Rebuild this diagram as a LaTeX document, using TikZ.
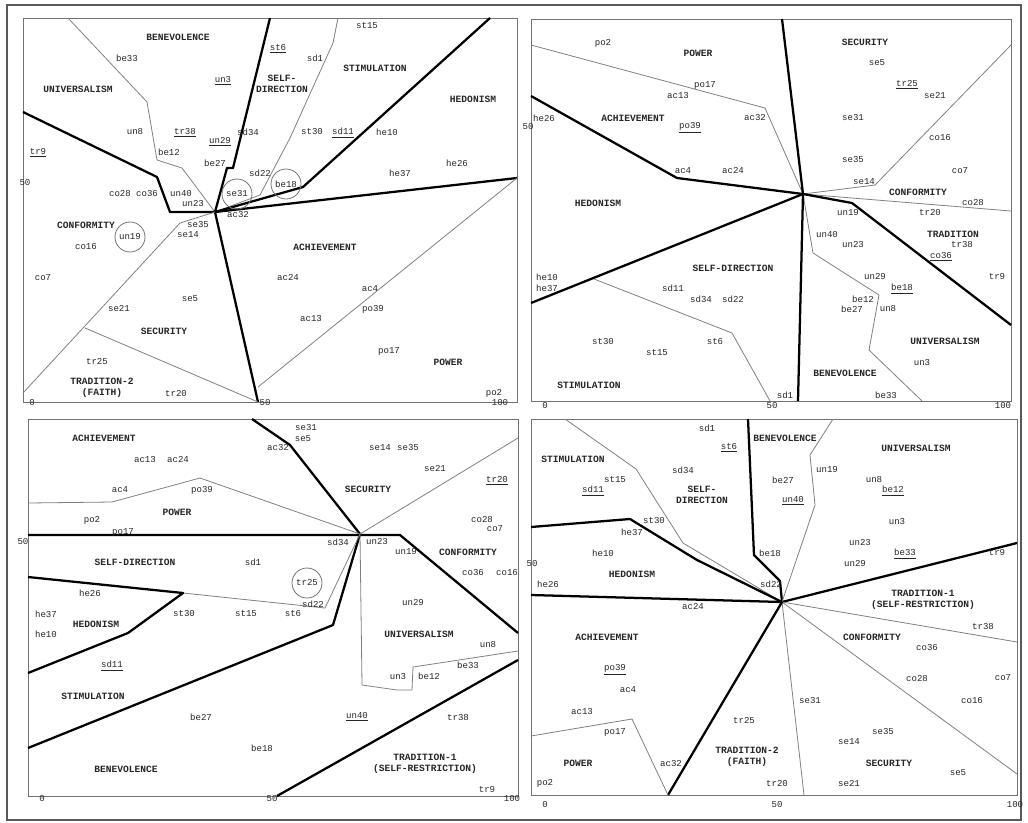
\documentclass[tikz,border=0pt]{standalone}
\usepackage{fontspec}
\setmainfont{Liberation Mono}
\newcounter{lbc}
\newcommand\Lb[2]{\stepcounter{lbc}\node[lbl] (l\arabic{lbc}) at (#1) {#2};}
\newcommand\Rg[2]{\stepcounter{lbc}\node[reg] (l\arabic{lbc}) at (#1) {#2};}
\newcommand\Ci[2]{\stepcounter{lbc}\node[lbl,ring] (l\arabic{lbc}) at (#1) {#2};}
\newcommand\Ul[1]{\underline{#1}}
\begin{document}
\begin{tikzpicture}[x=0.75pt,y=-0.75pt,
  thk/.style={line width=1.7pt, black, line join=round},
  thn/.style={line width=0.6pt, black!50, line join=round},
  frm/.style={line width=0.7pt, black!55},
  lbl/.style={font=\fontsize{6.8}{7.5}\selectfont, inner sep=0pt, text=black!85},
  reg/.style={font=\fontsize{7.2}{8.3}\selectfont\bfseries, inner sep=0pt, align=center, text=black!85},
  ring/.style={draw=black!55, line width=0.6pt, circle, minimum size=22.5pt}]
\useasboundingbox (0,0) rectangle (1028,822);
\draw[line width=1.4pt, black!65] (7,5) rectangle (1021,820);
% ---------- panel frames
\draw[frm] (23,18) rectangle (517,402);
\draw[frm] (531,19) rectangle (1011,401);
\draw[frm] (28,419) rectangle (518,796);
\draw[frm] (531,419) rectangle (1017,795);
\coordinate (c1) at (215,212);
\coordinate (c2) at (803,194);
\coordinate (c3) at (360,534);
\coordinate (c4) at (782,602);
% ---------- top-left
\draw[thn] (68,18) -- (147,102) -- (157,160) -- (182,168) -- (c1);
\draw[thk] (270,18) -- (233,168) -- (227,168) -- (c1);
\draw[thn] (338,18) -- (333,43) -- (290,138) -- (260,195) -- (c1);
\draw[thk] (490,18) -- (303,187) -- (c1);
\draw[thk] (c1) -- (517,178);
\draw[thn] (517,178) -- (258,387);
\draw[thk] (c1) -- (258,402);
\draw[thk] (23,112) -- (157,177) -- (170,212) -- (c1);
\draw[thn] (c1) -- (180,223) -- (23,393);
\draw[thn] (85,328) -- (258,402);
% ---------- top-right
\draw[thn] (531,45) -- (765,108) -- (c2);
\draw[thk] (782,19) -- (c2);
\draw[thk] (531,96) -- (677,178) -- (c2);
\draw[thn] (1011,45) -- (875,185) -- (c2);
\draw[thn] (c2) -- (1011,211);
\draw[thk] (c2) -- (852,203) -- (1011,325);
\draw[thn] (c2) -- (813,253) -- (879,295) -- (869,350) -- (922,401);
\draw[thk] (c2) -- (798,401);
\draw[thk] (c2) -- (531,303);
\draw[thn] (594,279) -- (732,333) -- (770,401);
% ---------- bottom-left
\draw[thk] (252,419) -- (290,445) -- (c3);
\draw[thn] (28,503) -- (112,502) -- (200,478) -- (c3);
\draw[thn] (c3) -- (518,438);
\draw[thk] (28,535) -- (400,535) -- (518,633);
\draw[thk] (c3) -- (333,625) -- (28,748);
\draw[thn] (c3) -- (325,608) -- (183,593);
\draw[thk] (28,577) -- (183,593) -- (128,633) -- (28,673);
\draw[thn] (c3) -- (362,685) -- (397,690) -- (412,690) -- (413,667) -- (518,651);
\draw[thk] (518,660) -- (277,796);
% ---------- bottom-right
\draw[thn] (565,419) -- (636,469) -- (683,543) -- (c4);
\draw[thk] (531,527) -- (630,519) -- (697,560) -- (c4);
\draw[thk] (748,419) -- (754,555) -- (780,581) -- (c4);
\draw[thn] (833,419) -- (810,455) -- (815,505) -- (c4);
\draw[thk] (c4) -- (1017,543);
\draw[thk] (c4) -- (531,595);
\draw[thn] (c4) -- (1017,642);
\draw[thn] (c4) -- (1017,774);
\draw[thn] (c4) -- (804,795);
\draw[thk] (c4) -- (668,795);
\draw[thn] (531,736) -- (632,719) -- (668,795);
% ================= labels top-left
\Rg{178,37}{BENEVOLENCE}
\Lb{127,58}{be33}
\Lb{278,49}{\Ul{st6}}
\Lb{315,58}{sd1}
\Lb{367,26}{st15}
\Rg{375,68}{STIMULATION}
\Lb{223,81}{\Ul{un3}}
\Rg{282,84}{SELF-\\DIRECTION}
\Rg{78,89}{UNIVERSALISM}
\Rg{473,99}{HEDONISM}
\Lb{135,132}{un8}
\Lb{185,133}{\Ul{tr38}}
\Lb{248,132}{sd34}
\Lb{312,132}{st30}
\Lb{343,133}{\Ul{sd11}}
\Lb{387,132}{he10}
\Lb{220,142}{\Ul{un29}}
\Lb{38,153}{\Ul{tr9}}
\Lb{169,152}{be12}
\Lb{215,163}{be27}
\Lb{457,163}{he26}
\Lb{400,173}{he37}
\Lb{260,173}{sd22}
\Lb{25,183}{50}
\Ci{286,184}{be18}
\Lb{120,194}{co28}
\Lb{147,194}{co36}
\Lb{181,194}{un40}
\Ci{237,194}{se31}
\Lb{193,204}{un23}
\Lb{238,215}{ac32}
\Rg{86,225}{CONFORMITY}
\Lb{198,225}{se35}
\Ci{130,237}{un19}
\Lb{188,235}{se14}
\Lb{86,247}{co16}
\Rg{325,247}{ACHIEVEMENT}
\Lb{43,278}{co7}
\Lb{288,278}{ac24}
\Lb{370,289}{ac4}
\Lb{190,299}{se5}
\Lb{119,309}{se21}
\Lb{373,309}{po39}
\Lb{311,319}{ac13}
\Rg{164,331}{SECURITY}
\Lb{389,351}{po17}
\Lb{97,362}{tr25}
\Rg{448,362}{POWER}
\Rg{102,388}{TRADITION-2\\(FAITH)}
\Lb{176,394}{tr20}
\Lb{494,393}{po2}
\Lb{32,403}{0}
\Lb{265,403}{50}
\Lb{500,403}{100}
% ================= labels top-right
\Lb{603,43}{po2}
\Rg{698,53}{POWER}
\Rg{865,42}{SECURITY}
\Lb{877,63}{se5}
\Lb{705,85}{po17}
\Lb{907,85}{\Ul{tr25}}
\Lb{935,96}{se21}
\Lb{678,96}{ac13}
\Lb{544,118}{he26}
\Rg{633,118}{ACHIEVEMENT}
\Lb{755,118}{ac32}
\Lb{853,118}{se31}
\Lb{690,128}{\Ul{po39}}
\Lb{528,127}{50}
\Lb{940,138}{co16}
\Lb{853,160}{se35}
\Lb{683,171}{ac4}
\Lb{733,171}{ac24}
\Lb{960,171}{co7}
\Lb{864,182}{se14}
\Rg{918,192}{CONFORMITY}
\Rg{598,203}{HEDONISM}
\Lb{973,203}{co28}
\Lb{848,213}{un19}
\Lb{930,213}{tr20}
\Rg{953,234}{TRADITION}
\Lb{827,235}{un40}
\Lb{853,245}{un23}
\Lb{962,245}{tr38}
\Lb{941,257}{\Ul{co36}}
\Rg{733,268}{SELF-DIRECTION}
\Lb{547,277}{he10}
\Lb{875,277}{un29}
\Lb{997,277}{tr9}
\Lb{547,288}{he37}
\Lb{673,288}{sd11}
\Lb{902,289}{\Ul{be18}}
\Lb{701,299}{sd34}
\Lb{733,299}{sd22}
\Lb{863,299}{be12}
\Lb{852,309}{be27}
\Lb{888,309}{un8}
\Lb{603,342}{st30}
\Lb{715,342}{st6}
\Rg{945,341}{UNIVERSALISM}
\Lb{657,353}{st15}
\Lb{922,363}{un3}
\Rg{845,373}{BENEVOLENCE}
\Rg{589,385}{STIMULATION}
\Lb{785,395}{sd1}
\Lb{886,395}{be33}
\Lb{545,406}{0}
\Lb{772,406}{50}
\Lb{1003,406}{100}
% ================= labels bottom-left
\Lb{306,428}{se31}
\Lb{303,439}{se5}
\Rg{104,438}{ACHIEVEMENT}
\Lb{278,448}{ac32}
\Lb{380,448}{se14}
\Lb{408,448}{se35}
\Lb{145,460}{ac13}
\Lb{178,460}{ac24}
\Lb{435,469}{se21}
\Lb{497,481}{\Ul{tr20}}
\Lb{120,490}{ac4}
\Lb{202,490}{po39}
\Rg{368,489}{SECURITY}
\Rg{177,512}{POWER}
\Lb{92,520}{po2}
\Lb{482,520}{co28}
\Lb{123,532}{po17}
\Lb{495,529}{co7}
\Lb{23,542}{50}
\Lb{338,542}{sd34}
\Lb{377,542}{un23}
\Lb{406,552}{un19}
\Rg{468,552}{CONFORMITY}
\Rg{135,562}{SELF-DIRECTION}
\Lb{253,562}{sd1}
\Lb{473,573}{co36}
\Lb{507,573}{co16}
\Ci{307,583}{tr25}
\Lb{90,593}{he26}
\Lb{313,604}{sd22}
\Lb{413,603}{un29}
\Lb{46,614}{he37}
\Lb{184,614}{st30}
\Lb{246,614}{st15}
\Lb{293,614}{st6}
\Rg{96,624}{HEDONISM}
\Lb{46,634}{he10}
\Rg{419,634}{UNIVERSALISM}
\Lb{488,644}{un8}
\Lb{468,665}{be33}
\Lb{112,666}{\Ul{sd11}}
\Lb{398,676}{un3}
\Lb{429,676}{be12}
\Rg{93,696}{STIMULATION}
\Lb{201,717}{be27}
\Lb{357,717}{\Ul{un40}}
\Lb{458,717}{tr38}
\Lb{262,748}{be18}
\Rg{425,764}{TRADITION-1\\(SELF-RESTRICTION)}
\Rg{126,769}{BENEVOLENCE}
\Lb{487,789}{tr9}
\Lb{42,798}{0}
\Lb{272,798}{50}
\Lb{512,798}{100}
% ================= labels bottom-right
\Lb{707,428}{sd1}
\Rg{785,438}{BENEVOLENCE}
\Lb{729,448}{\Ul{st6}}
\Rg{916,448}{UNIVERSALISM}
\Rg{573,459}{STIMULATION}
\Lb{827,470}{un19}
\Lb{683,470}{sd34}
\Lb{615,480}{st15}
\Lb{783,480}{be27}
\Lb{874,480}{un8}
\Lb{593,491}{\Ul{sd11}}
\Rg{702,495}{SELF-\\DIRECTION}
\Lb{893,491}{\Ul{be12}}
\Lb{793,501}{\Ul{un40}}
\Lb{897,522}{un3}
\Lb{654,521}{st30}
\Lb{632,532}{he37}
\Lb{860,543}{un23}
\Lb{603,553}{he10}
\Lb{770,553}{be18}
\Lb{905,554}{\Ul{be33}}
\Lb{997,553}{tr9}
\Lb{532,564}{50}
\Lb{855,564}{un29}
\Rg{632,574}{HEDONISM}
\Lb{548,584}{he26}
\Lb{771,584}{sd22}
\Rg{923,600}{TRADITION-1\\(SELF-RESTRICTION)}
\Lb{693,606}{ac24}
\Lb{983,626}{tr38}
\Rg{607,637}{ACHIEVEMENT}
\Rg{872,637}{CONFORMITY}
\Lb{927,648}{co36}
\Lb{615,670}{\Ul{po39}}
\Lb{917,678}{co28}
\Lb{1003,678}{co7}
\Lb{628,690}{ac4}
\Lb{810,700}{se31}
\Lb{972,700}{co16}
\Lb{582,711}{ac13}
\Lb{744,720}{tr25}
\Lb{615,732}{po17}
\Lb{883,731}{se35}
\Lb{849,742}{se14}
\Rg{747,757}{TRADITION-2\\(FAITH)}
\Rg{578,763}{POWER}
\Lb{671,763}{ac32}
\Rg{889,763}{SECURITY}
\Lb{958,773}{se5}
\Lb{545,783}{po2}
\Lb{777,783}{tr20}
\Lb{849,783}{se21}
\Lb{545,804}{0}
\Lb{777,804}{50}
\Lb{1015,804}{100}
\end{tikzpicture}
\end{document}
